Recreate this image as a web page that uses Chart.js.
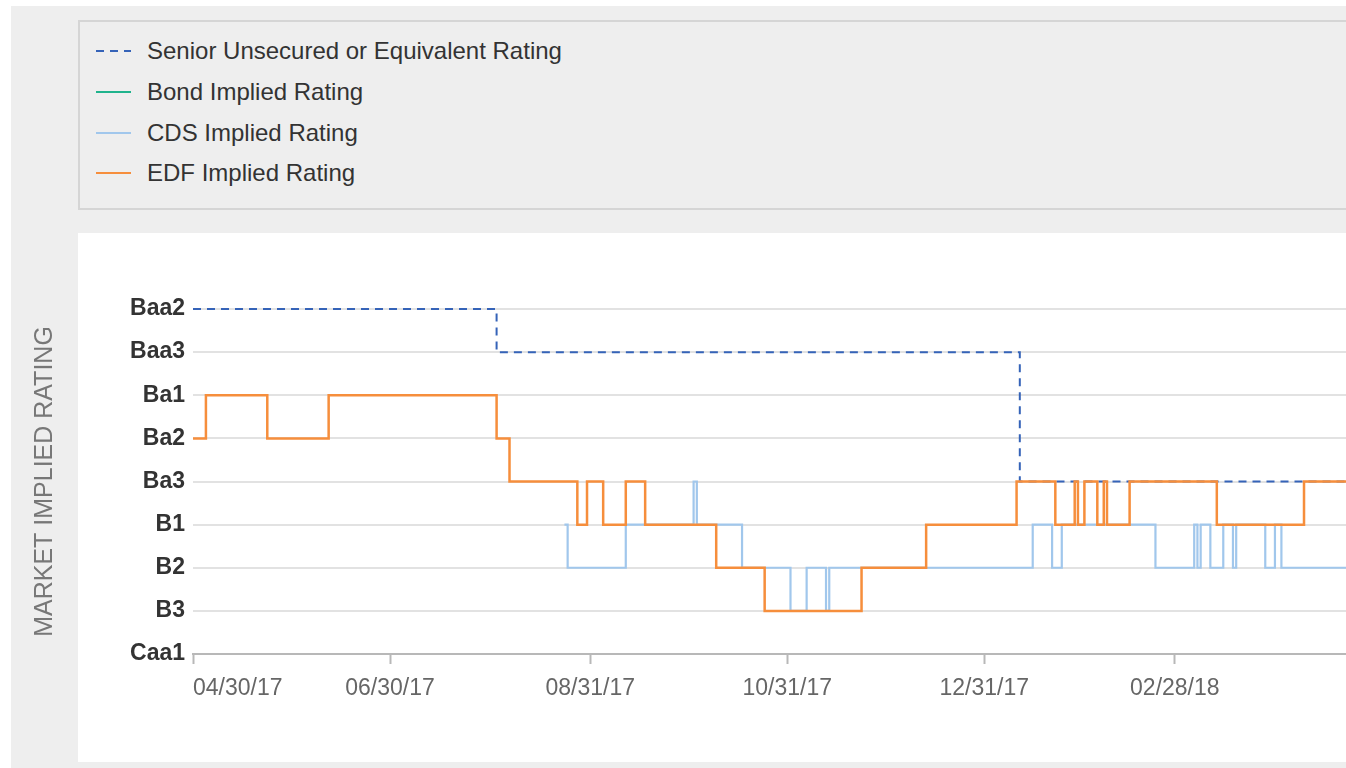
<!DOCTYPE html>
<html><head><meta charset="utf-8">
<script src="https://cdn.jsdelivr.net/npm/chart.js@4.4.1/dist/chart.umd.min.js"></script>
<style>
html,body{margin:0;padding:0;background:#fff;overflow:hidden;width:1346px;height:768px;}
#frame{position:absolute;left:11px;top:6px;width:1400px;height:800px;background:#eeeeee;}
#legend{position:absolute;left:78px;top:20px;width:1320px;height:190px;box-sizing:border-box;border:2px solid #d5d5d5;background:#eeeeee;padding-top:9px;font-family:'Liberation Sans',Arial,sans-serif;font-size:24px;color:#333;}
.item{height:40.7px;display:flex;align-items:center;padding-left:16px;}
.item svg{width:35px;height:4px;margin-right:16px;flex:none;}
#wrap{position:absolute;left:11px;top:233px;width:1346px;height:529px;background:linear-gradient(to right, rgba(0,0,0,0) 67px, #ffffff 67px);}
</style></head>
<body>
<div id="frame"></div>
<div id="legend"></div>
<div id="wrap"><canvas id="c"></canvas></div>
<script>
// ---- data ----
const ratings = ['Caa1','B3','B2','B1','Ba3','Ba2','Ba1','Baa3','Baa2'];
const axisStart = '2017-04-30';
const axisEnd = '2018-04-22';
const tickDates = ['2017-04-30','2017-06-30','2017-08-31','2017-10-31','2017-12-31','2018-02-28'];

const seniorDates   = ['2017-04-30','2017-08-02','2018-01-11','2018-04-22'];
const seniorRatings = ['Baa2','Baa3','Ba3','Ba3'];

const bondDates   = [];
const bondRatings = [];

const cdsDates = ['2017-08-23','2017-08-24','2017-09-11','2017-10-02','2017-10-03','2017-10-17','2017-11-01','2017-11-06','2017-11-12','2017-11-13',
  '2018-01-15','2018-01-21','2018-01-24','2018-02-22','2018-03-06','2018-03-07','2018-03-08','2018-03-11','2018-03-15','2018-03-18',
  '2018-03-19','2018-03-28','2018-03-31','2018-04-02','2018-04-22'];
const cdsRatings = ['B1','B2','B1','Ba3','B1','B2','B3','B2','B3','B2',
  'B1','B2','B1','B2','B1','B2','B1','B2','B1','B2',
  'B1','B2','B1','B2','B2'];

const edfDates = ['2017-04-30','2017-05-04','2017-05-23','2017-06-11','2017-08-02','2017-08-06','2017-08-27','2017-08-30','2017-09-04','2017-09-11',
  '2017-09-17','2017-10-09','2017-10-24','2017-11-23','2017-12-13','2018-01-10','2018-01-22','2018-01-28','2018-01-29','2018-01-31',
  '2018-02-04','2018-02-06','2018-02-07','2018-02-14','2018-03-13','2018-04-09','2018-04-22'];
const edfRatings = ['Ba2','Ba1','Ba2','Ba1','Ba2','Ba3','B1','Ba3','B1','Ba3',
  'B1','B2','B3','B2','B1','Ba3','B1','Ba3','B1','Ba3',
  'B1','Ba3','B1','Ba3','B1','Ba3','Ba3'];

// ---- helpers ----
const toUTC = s => { const [y,m,d] = s.split('-').map(Number); return Date.UTC(y, m-1, d); };
const base = toUTC(axisStart);
const dayOf = s => Math.round((toUTC(s) - base) / 864e5);
const fmt = day => { const d = new Date(base + day * 864e5);
  const p = n => String(n).padStart(2,'0');
  return p(d.getUTCMonth()+1) + '/' + p(d.getUTCDate()) + '/' + p(d.getUTCFullYear() % 100); };
const series = (dates, rs) => dates.map((s, i) => ({x: dayOf(s), y: ratings.indexOf(rs[i])}));
const tickDays = tickDates.map(dayOf);
const endDay = dayOf(axisEnd);

Chart.defaults.font.family = "'Liberation Sans', Arial, sans-serif";

const chart = new Chart(document.getElementById('c'), {
  type: 'line',
  data: {
    datasets: [
      {label: 'Senior Unsecured or Equivalent Rating', data: series(seniorDates, seniorRatings), borderColor: '#3563b8', borderDash: [8,6], borderWidth: 2, order: 2},
      {label: 'Bond Implied Rating', data: series(bondDates, bondRatings), borderColor: '#1fb38c', borderWidth: 2, order: 3},
      {label: 'CDS Implied Rating', data: series(cdsDates, cdsRatings), borderColor: '#a1c7ec', borderWidth: 2.2, order: 1},
      {label: 'EDF Implied Rating', data: series(edfDates, edfRatings), borderColor: '#f68e3c', borderWidth: 2.5, order: 0}
    ]
  },
  options: {
    animation: false,
    responsive: true,
    maintainAspectRatio: false,
    layout: {padding: {top: 76, left: 0, right: 0, bottom: 0}},
    elements: {point: {radius: 0, hoverRadius: 0}, line: {tension: 0, stepped: true, fill: false, borderJoinStyle: 'miter', borderCapStyle: 'butt'}},
    datasets: {line: {clip: false}},
    plugins: {legend: {display: false}, tooltip: {enabled: false}},
    events: [],
    scales: {
      x: {
        type: 'linear', min: 0, max: endDay,
        afterBuildTicks: s => { s.ticks = tickDays.concat([endDay]).map(v => ({value: v})); },
        afterFit: s => { s.height = 108; },
        ticks: {align: 'inner', autoSkip: false, maxRotation: 0, font: {size: 23}, color: '#666', padding: 11,
          callback: v => tickDays.includes(v) ? fmt(v) : ''},
        grid: {drawOnChartArea: false, drawTicks: true, tickLength: 10, tickWidth: 2,
          tickColor: ctx => ctx.index === tickDays.length ? 'rgba(0,0,0,0)' : '#b8b8b8'},
        border: {display: true, color: '#b8b8b8', width: 2}
      },
      y: {
        type: 'linear', min: 0, max: ratings.length - 1,
        afterBuildTicks: s => { s.ticks = ratings.map((r, i) => ({value: i})); },
        afterFit: s => { s.width = 182; },
        ticks: {font: {size: 23, weight: 'bold'}, color: '#333', padding: 8, callback: v => ratings[v]},
        grid: {color: '#e2e2e2', lineWidth: 2, drawTicks: false},
        border: {display: false},
        title: {display: true, text: 'MARKET IMPLIED RATING', color: '#777', font: {size: 25}, padding: {top: 19, bottom: 0}}
      }
    }
  }
});

// HTML legend built from the chart's datasets
const legendEl = document.getElementById('legend');
chart.data.datasets.forEach(ds => {
  const row = document.createElement('div'); row.className = 'item';
  const dash = ds.borderDash ? ds.borderDash.join(',') : 'none';
  row.innerHTML = '<svg viewBox="0 0 35 4"><line x1="0" y1="2" x2="35" y2="2" stroke="' + ds.borderColor +
    '" stroke-width="2" stroke-dasharray="' + dash + '"/></svg>';
  const sp = document.createElement('span'); sp.textContent = ds.label; row.appendChild(sp);
  legendEl.appendChild(row);
});
</script>
</body></html>
